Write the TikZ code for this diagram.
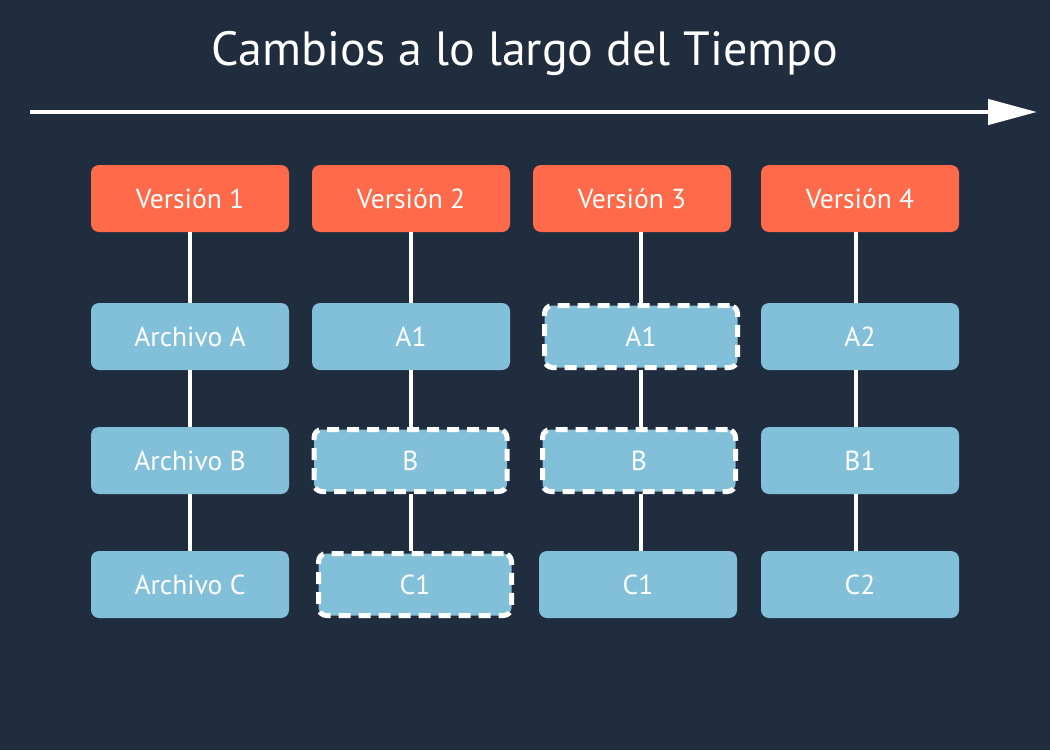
\documentclass[tikz,border=0pt]{standalone}
\usepackage{fontspec}
\setmainfont{PT Sans}
\usetikzlibrary{arrows.meta, positioning}

\definecolor{bgnavy}{HTML}{1F2D3F}
\definecolor{vorange}{HTML}{FF6B4A}
\definecolor{fblue}{HTML}{82C0D9}

\begin{document}
\begin{tikzpicture}[x=1pt, y=-1pt,
  version/.style = {fill=vorange, rounded corners=8pt, minimum width=198pt, minimum height=67pt, text=white, font=\fontsize{27.5}{32}\selectfont},
  file/.style = {fill=fblue, rounded corners=8pt, minimum width=198pt, minimum height=67pt, text=white, font=\fontsize{27.5}{32}\selectfont},
  changed/.style = {file, draw=white, line width=5pt, dash pattern=on 12pt off 8pt, minimum width=193pt, minimum height=62pt},
  link/.style = {draw=white, line width=4pt}]
\fill[bgnavy] (0,0) rectangle (1050,750);
\useasboundingbox (0,0) rectangle (1050,750);

\node[text=white, font=\fontsize{48}{58}\selectfont] (title) at (525,53) {Cambios a lo largo del Tiempo};
\coordinate (t0) at (30,112);
\coordinate (t1) at (1037,112);
\draw[white, line width=4.5pt, -{Triangle[length=49pt, width=25pt]}] (t0) -- (t1);

% versions
\node[version] (v1) at (190,198.5) {Versión 1};
\node[version] (v2) at (411,198.5) {Versión 2};
\node[version] (v3) at (632,198.5) {Versión 3};
\node[version] (v4) at (860,198.5) {Versión 4};

% files
\node[file] (a1) at (190,336.5) {Archivo A};
\node[file] (b1) at (190,460.5) {Archivo B};
\node[file] (c1) at (190,584.5) {Archivo C};

\node[file] (a2) at (411,336.5) {A1};
\node[changed] (b2) at (410.5,460.5) {B};
\node[changed] (c2) at (415,584.5) {C1};

\node[changed] (a3) at (641,336.5) {A1};
\node[changed] (b3) at (639,460.5) {B};
\node[file] (c3) at (638,584.5) {C1};

\node[file] (a4) at (860,336.5) {A2};
\node[file] (b4) at (860,460.5) {B1};
\node[file] (c4) at (860,584.5) {C2};

\draw[link] (v1.south) -- (a1.north);
\draw[link] (a1.south) -- (b1.north);
\draw[link] (b1.south) -- (c1.north);
\draw[link] (v2.south) -- (a2.north);
\draw[link] (a2.south) -- (b2.north -| a2.south);
\draw[link] (b2.south) -- (c2.north -| b2.south);
\draw[link] (v3.south -| a3.north) -- (a3.north);
\draw[link] (a3.south) -- (b3.north -| a3.south);
\draw[link] (b3.south -| a3.south) -- (c3.north -| a3.south);
\draw[link] (v4.south -| 856,0) -- (a4.north -| 856,0);
\draw[link] (a4.south -| 856,0) -- (b4.north -| 856,0);
\draw[link] (b4.south -| 856,0) -- (c4.north -| 856,0);
\end{tikzpicture}
\end{document}
